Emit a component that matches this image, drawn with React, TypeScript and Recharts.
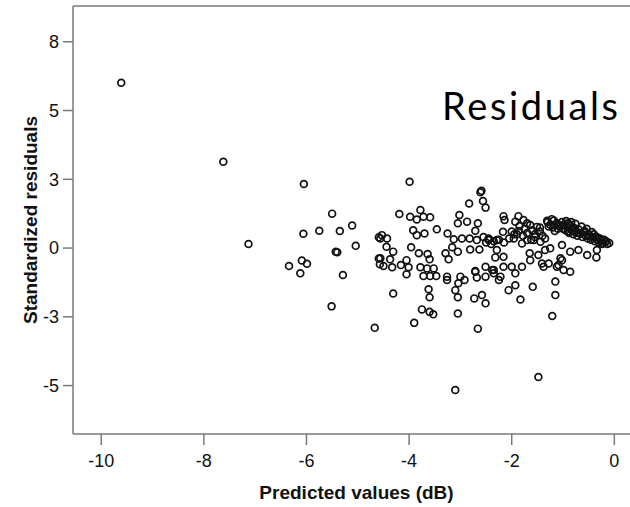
import React from "react";
import { ScatterChart, Scatter, XAxis, YAxis, ReferenceLine, Label } from "recharts";

const predicted = [
  -9.61, -7.62, -7.13, -6.05, -6.06, -6.09, -5.99, -6.34, -6.12, -5.75, -5.5, -5.35, -5.11, -5.43, -5.4, -5.04, -5.29, -5.51,
  -4.59, -4.59, -4.57, -4.67, -4.53, -4.43, -4.56, -4.44, -4.31, -4.56, -4.37, -4.5, -4.33, -4.31, -4.19, -4.16, -4.05, -4.01, -4.05,
  -3.99, -3.98, -3.96, -3.92, -3.9, -3.85, -3.85, -3.81, -3.78, -3.78, -3.75, -3.72, -3.7, -3.72, -3.65, -3.64, -3.62, -3.6, -3.6,
  -3.6, -3.59, -3.59, -3.53, -3.52, -3.47, -3.46,
  -3.29, -3.26, -3.26, -3.25, -3.23, -3.16, -3.13, -3.1, -3.1, -3.05, -3.05, -3.05, -3.05, -3.04, -3.02, -3.0, -2.97, -2.92, -2.87,
  -2.83, -2.82, -2.81, -2.73, -2.71, -2.71, -2.71, -2.68, -2.68, -2.66, -2.66, -2.63, -2.61, -2.59, -2.58, -2.56, -2.51, -2.51, -2.51,
  -2.51, -2.45, -2.45, -2.38, -2.35, -2.35, -2.32, -2.29, -2.29, -2.25, -2.22, -2.55, -2.5, -2.4, -2.35, -2.25,
  -2.17, -2.16, -2.14, -2.16, -2.16, -2.15, -2.06, -2.05, -2.0, -2.0, -1.96, -1.93, -1.93, -1.93, -1.9, -1.87, -1.85, -1.83, -1.8,
  -1.8, -1.77, -1.75, -1.7, -1.7, -1.65, -1.64, -1.64, -1.6, -1.59, -1.57, -1.55, -1.51, -1.48, -1.48, -1.45, -1.44, -1.41, -1.4,
  -1.38, -1.35, -1.31,
  -1.28, -1.25, -1.21, -1.18, -1.15, -1.15, -1.12, -1.09, -1.05, -1.02, -1.02, -0.99, -0.86, -0.86, -0.7, -0.53, -0.35, -0.34,
  -1.3, -1.25, -1.2, -1.18, -1.12, -1.1, -1.05, -1.02, -0.98, -0.95, -0.92, -0.9, -0.88, -0.85, -0.82, -0.8, -0.78, -0.75, -0.72,
  -0.7, -0.66, -0.62, -0.6, -0.56, -0.52, -0.5, -0.46, -0.42, -0.38, -0.35, -0.3, -0.26, -0.22, -0.18, -0.14, -0.1,
  -1.28, -1.22, -1.16, -1.08, -1.0, -0.94, -0.9, -0.84, -0.8, -0.76, -0.7, -0.64, -0.58, -0.54, -0.48, -0.44, -0.4, -0.34,
  -0.28, -0.24, -0.2, -0.16, -1.35, -1.45, -1.55, -1.62, -1.7, -1.78, -1.86, -1.95,
];

const residuals = [
  6.01, 3.14, 0.15, 2.33, 0.52, -0.45, -0.57, -0.65, -0.92, 0.63, 1.25, 0.62, 0.82, -0.13, -0.15, 0.08, -0.98, -2.12,
  0.39, -0.38, -0.59, -2.9, 0.47, 0.35, 0.35, 0.05, -0.13, -0.37, -0.41, -0.65, -0.7, -1.65, 1.24, -0.62, -0.44, -0.7, -0.95,
  2.41, 1.14, 0.03, 0.65, -2.72, 1.04, 0.47, -0.19, 1.38, -0.7, -2.23, 1.14, 0.53, -1.02, -0.74, -0.22, -1.5, -0.41, -1.79,
  -2.32, 1.12, -1.02, -2.41, -0.74, -1.02, 0.68,
  -0.19, -1.04, -1.16, 0.53, -0.41, 0.03, 0.32, -1.53, -5.16, 0.9, -0.13, -1.79, -2.38, -1.28, 1.2, -1.04, 0.35, -1.16, 0.96,
  1.62, 0.35, -0.05, -1.83, 0.63, -0.83, -0.86, 0.29, -1.07, 0.9, -2.93, -0.05, 2.03, 2.08, -1.71, 1.71, 1.47, -0.68, -1.04,
  -2.01, 0.29, 0.35, -0.8, -0.8, -0.92, -0.34, 0.29, -0.07, -1.16, -1.04, 0.4, 0.2, 0.15, 0.25, 0.3,
  0.59, 1.16, 1.02, -0.32, -0.68, 0.2, -1.53, 0.35, 0.6, -0.68, 0.35, 0.96, -0.92, -1.35, 0.5, 1.16, 0.8, -1.87, 0.17,
  -0.68, 1.02, 0.7, 0.29, 0.55, -0.19, 0.84, -0.44, 0.65, -1.41, 0.29, 0.5, 0.77, -0.25, -4.69, 0.6, 0.23, -0.56, 0.45,
  -0.68, -0.07, 0.99,
  -0.56, -0.01, -2.47, 0.84, -1.22, -1.71, -0.68, -0.62, -0.37, 0.11, -0.44, -0.8, -0.13, -0.86, -0.07, -0.25, -0.34, -0.07,
  0.95, 0.85, 0.75, 1.0, 0.9, 0.7, 0.8, 0.95, 0.85, 0.65, 0.75, 0.9, 0.55, 0.8, 0.65, 0.5, 0.72, 0.6, 0.45,
  0.68, 0.52, 0.4, 0.58, 0.45, 0.35, 0.5, 0.3, 0.4, 0.25, 0.32, 0.2, 0.28, 0.18, 0.22, 0.15, 0.18,
  0.78, 1.05, 0.62, 0.85, 0.7, 0.98, 0.6, 0.95, 0.75, 0.88, 0.55, 0.78, 0.62, 0.7, 0.42, 0.58, 0.5, 0.4,
  0.35, 0.15, 0.3, 0.25, 0.35, 0.75, 0.4, 0.3, 0.9, 0.45, 0.62, 0.5,
];

const xTicks = [-10, -8, -6, -4, -2, 0];
const yTicks = [7.5, 5, 2.5, 0, -2.5, -5];
const yTickLabels = ["8", "5", "3", "0", "-3", "-5"];
const xDomain = [-10.55, 0.5];
const yDomain = [-6.76, 8.8];

const points = predicted.map((x, i) => ({ x, y: residuals[i] }));

const AXIS = "#7a7a7a";
const FONT = "'Liberation Sans', Arial, sans-serif";

const Ring = (p: any) => (
  <circle cx={p.cx} cy={p.cy} r={3.4} fill="none" stroke="#111" strokeWidth={1.7} />
);

export default function App() {
  return (
    <div style={{ position: "absolute", left: 0, top: 0, width: 630, height: 507, overflow: "hidden", background: "#fff" }}>
      <ScatterChart width={640} height={507} margin={{ top: 6, right: 0, bottom: 0, left: 0 }}>
        <XAxis
          type="number"
          dataKey="x"
          domain={xDomain}
          ticks={xTicks}
          allowDataOverflow
          height={73}
          tickSize={11}
          tickMargin={9}
          stroke={AXIS}
          strokeWidth={1.5}
          tickLine={{ stroke: AXIS, strokeWidth: 1.5 }}
          tick={{ fill: "#111", fontSize: 18, fontFamily: FONT }}
        >
          <Label value="Predicted values (dB)" position="insideBottom" offset={8} fill="#111" fontSize={19} fontWeight="bold" fontFamily={FONT} />
        </XAxis>
        <YAxis
          type="number"
          dataKey="y"
          domain={yDomain}
          ticks={yTicks}
          allowDataOverflow
          width={73}
          tickSize={10}
          tickMargin={4}
          stroke={AXIS}
          strokeWidth={1.5}
          tickLine={{ stroke: AXIS, strokeWidth: 1.5 }}
          tick={{ fill: "#111", fontSize: 18, fontFamily: FONT }}
          tickFormatter={(v: number) => yTickLabels[yTicks.indexOf(v)] ?? String(v)}
        >
          <Label value="Standardized residuals" position="center" angle={-90} dx={-6} fill="#111" fontSize={19} fontWeight="bold" fontFamily={FONT} />
        </YAxis>
        <ReferenceLine y={yDomain[1]} stroke={AXIS} strokeWidth={1.5} />
        <Scatter data={points} shape={Ring} isAnimationActive={false} />
      </ScatterChart>
      <svg width={630} height={507} style={{ position: "absolute", left: 0, top: 0, pointerEvents: "none" }}>
        <text x={442} y={120} fontFamily="Lato, 'Open Sans', sans-serif" fontSize={38} textLength={176} lengthAdjust="spacing" fill="#000">Residuals</text>
      </svg>
    </div>
  );
}
